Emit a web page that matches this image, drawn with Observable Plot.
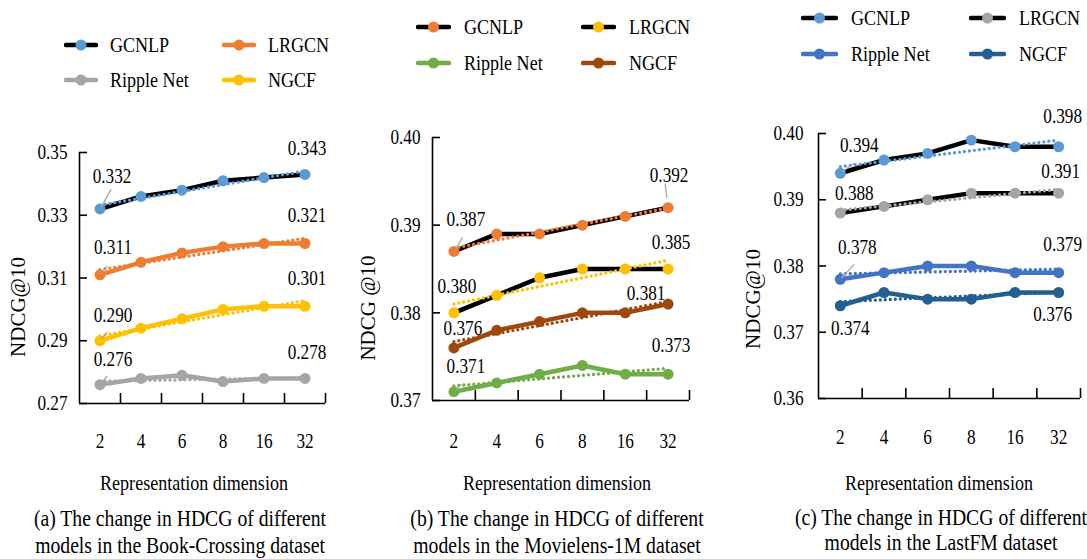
<!DOCTYPE html>
<html><head><meta charset="utf-8">
<script src="https://cdn.jsdelivr.net/npm/d3@7"></script>
<script src="https://cdn.jsdelivr.net/npm/@observablehq/plot@0.6"></script>
<style>
body{margin:0;background:#fff;}
#root{position:relative;width:1087px;height:559px;overflow:hidden;background:#fff;font-family:"Liberation Serif","Times New Roman",serif;color:#000;}
.abs{position:absolute;}
.cond{position:absolute;white-space:nowrap;line-height:1;}
</style></head><body><div id="root"></div>
<script>
// ---------- data ----------
const dims = ["2", "4", "6", "8", "16", "32"];
const models = ["GCNLP", "LRGCN", "Ripple Net", "NGCF"];

// (a) Book-Crossing
const bookGCNLP  = [0.332, 0.336, 0.338, 0.341, 0.342, 0.343];
const bookLRGCN  = [0.311, 0.315, 0.318, 0.320, 0.321, 0.321];
const bookRipple = [0.276, 0.278, 0.279, 0.277, 0.278, 0.278];
const bookNGCF   = [0.290, 0.294, 0.297, 0.300, 0.301, 0.301];
const yTicksBook = [0.27, 0.29, 0.31, 0.33, 0.35];

// (b) Movielens-1M
const movieGCNLP  = [0.387, 0.389, 0.389, 0.390, 0.391, 0.392];
const movieLRGCN  = [0.380, 0.382, 0.384, 0.385, 0.385, 0.385];
const movieRipple = [0.371, 0.372, 0.373, 0.374, 0.373, 0.373];
const movieNGCF   = [0.376, 0.378, 0.379, 0.380, 0.380, 0.381];
const yTicksMovie = [0.37, 0.38, 0.39, 0.40];

// (c) LastFM
const lastGCNLP  = [0.394, 0.396, 0.397, 0.399, 0.398, 0.398];
const lastLRGCN  = [0.388, 0.389, 0.390, 0.391, 0.391, 0.391];
const lastRipple = [0.378, 0.379, 0.380, 0.380, 0.379, 0.379];
const lastNGCF   = [0.374, 0.376, 0.375, 0.375, 0.376, 0.376];
const yTicksLast = [0.36, 0.37, 0.38, 0.39, 0.40];

const xTitle = "Representation dimension";
const captionsA = ["(a) The change in HDCG of different", "models in the Book-Crossing dataset"];
const captionsB = ["(b) The change in HDCG of different", "models in the Movielens-1M dataset"];
const captionsC = ["(c) The change in HDCG of different", "models in the LastFM dataset"];

// ---------- layout / style config ----------
const SX = 0.82;
const FONT = '"Liberation Serif","Times New Roman",serif';
const SVG_TOP = 95, SVG_H = 405;

const panels = [
  { left: 0, width: 360, ml: 79, mr: 35, mt: 57, mb: 97, yDomain: [0.27, 0.35], yTicks: yTicksBook,
    yPad: 12, xPad: 30, yLabel: "NDCG@10", yLabelDx: -61, yLabelDy: 29,
    series: [
      {name: models[0], values: bookGCNLP,  line: "#000000", mark: "#5B9BD5"},
      {name: models[1], values: bookLRGCN,  line: "#ED7D31", mark: "#ED7D31"},
      {name: models[2], values: bookRipple, line: "#A5A5A5", mark: "#A5A5A5"},
      {name: models[3], values: bookNGCF,   line: "#FFC000", mark: "#FFC000"}],
    labels: [
      {s: 0, at: 0, dx: 12, dy: -33}, {s: 1, at: 0, dx: 13, dy: -28}, {s: 3, at: 0, dx: 13, dy: -25}, {s: 2, at: 0, dx: 13, dy: -25},
      {s: 0, at: 5, dx: 2, dy: -26}, {s: 1, at: 5, dx: 2, dy: -28}, {s: 3, at: 5, dx: 2, dy: -28}, {s: 2, at: 5, dx: 2, dy: -26}],
    leaders: [
      {s: 0, at: 0, rot: 30, r: 3, len: 22}, {s: 1, at: 0, rot: 40, r: 3, len: 11},
      {s: 3, at: 0, rot: 40, r: 3, len: 11}, {s: 2, at: 0, rot: 40, r: 3, len: 11}],
    legend: {rows: [45, 80], sw: [65, 223], swW: 32, tx: [110, 268]},
    title: {cx: 194, cy: 483}, caption: {cx: 180, cy: [518, 545], lines: captionsA}
  },
  { left: 362, width: 362, ml: 70, mr: 35, mt: 42, mb: 100, yDomain: [0.37, 0.40], yTicks: yTicksMovie,
    yPad: 12, xPad: 33, yLabel: "NDCG @10", yLabelDx: -64, yLabelDy: 39,
    series: [
      {name: models[0], values: movieGCNLP,  line: "#000000", mark: "#ED7D31"},
      {name: models[1], values: movieLRGCN,  line: "#000000", mark: "#FFC000"},
      {name: models[2], values: movieRipple, line: "#70AD47", mark: "#70AD47"},
      {name: models[3], values: movieNGCF,   line: "#9E480E", mark: "#9E480E"}],
    labels: [
      {s: 0, at: 0, dx: 12, dy: -32}, {s: 0, at: 5, dx: 1, dy: -32},
      {s: 1, at: 0, dx: 3, dy: -27}, {s: 1, at: 5, dx: 3, dy: -27},
      {s: 3, at: 0, dx: 9, dy: -20}, {s: 3, at: 5, dx: -22, dy: -11},
      {s: 2, at: 0, dx: 12, dy: -25}, {s: 2, at: 5, dx: 3, dy: -29}],
    leaders: [
      {s: 0, at: 0, rot: 32, r: 4, len: 16}, {s: 0, at: 5, rot: -7, r: 10, len: 24},
      {s: 2, at: 0, rot: 45, r: 3, len: 10}],
    legend: {rows: [27, 63], sw: [417, 582], swW: 33, tx: [464, 629]},
    title: {cx: 557, cy: 483}, caption: {cx: 557, cy: [518, 545], lines: captionsB}
  },
  { left: 725, width: 362, ml: 93, mr: 7, mt: 38, mb: 102, yDomain: [0.36, 0.40], yTicks: yTicksLast,
    yPad: 15, xPad: 31, yLabel: "NDCG@10", yLabelDx: -65, yLabelDy: 33,
    series: [
      {name: models[0], values: lastGCNLP,  line: "#000000", mark: "#5B9BD5"},
      {name: models[1], values: lastLRGCN,  line: "#000000", mark: "#A5A5A5"},
      {name: models[2], values: lastRipple, line: "#4472C4", mark: "#4472C4"},
      {name: models[3], values: lastNGCF,   line: "#255E91", mark: "#255E91"}],
    labels: [
      {s: 0, at: 0, dx: 19, dy: -28}, {s: 0, at: 5, dx: 4, dy: -30},
      {s: 1, at: 0, dx: 14, dy: -20}, {s: 1, at: 5, dx: 2, dy: -22},
      {s: 2, at: 0, dx: 17, dy: -32}, {s: 2, at: 5, dx: 4, dy: -28},
      {s: 3, at: 0, dx: 10, dy: 23}, {s: 3, at: 5, dx: -6, dy: 22}],
    leaders: [
      {s: 0, at: 0, rot: 54, r: 3, len: 17}, {s: 2, at: 0, rot: 43, r: 2, len: 20}],
    legend: {rows: [18, 54], sw: [802, 970], swW: 35, tx: [851, 1019]},
    title: {cx: 939, cy: 483}, caption: {cx: 941, cy: [517, 542], lines: captionsC}
  }
];

const root = document.getElementById("root");
const fmt3 = d3.format(".3f");
const fmt2 = d3.format(".2f");
const leaderShape = {draw(context, l, r) { context.moveTo(0, -r); context.lineTo(0, -l); }};

function addText(txt, cx, cy, size, anchor) {
  const el = document.createElement("div");
  el.className = "cond";
  el.textContent = txt;
  el.style.fontSize = size + "px";
  el.style.top = (cy - size / 2) + "px";
  if (anchor === "middle") {
    el.style.left = (cx - 300) + "px";
    el.style.width = "600px";
    el.style.textAlign = "center";
    el.style.transformOrigin = "50% 50%";
  } else {
    el.style.left = cx + "px";
    el.style.transformOrigin = "0 50%";
  }
  el.style.transform = `scaleX(${SX})`;
  root.appendChild(el);
}

panels.forEach(p => {
  const data = p.series.flatMap(s => s.values.map((v, i) => ({series: s.name, i, v, line: s.line, mark: s.mark})));
  const n = dims.length;
  const bounds = d3.range(n).map(i => i + 0.5);
  const pt = (l) => { const s = p.series[l.s]; return {i: l.at, v: s.values[l.at]}; };

  const labelMarks = p.labels.map(l => Plot.text([pt(l)], {
    x: "i", y: "v", text: d => fmt3(d.v), dx: l.dx, dy: l.dy, fontSize: 21, fill: "#000"
  }));
  const leaderMarks = p.leaders.map(l => Plot.vector([pt(l)], {
    x: "i", y: "v", length: l.len, rotate: l.rot, r: l.r, anchor: "start", shape: leaderShape,
    stroke: "#A6A6A6", strokeWidth: 1.3
  }));

  const chart = Plot.plot({
    width: p.width, height: SVG_H,
    marginLeft: p.ml, marginRight: p.mr, marginTop: p.mt, marginBottom: p.mb,
    style: {fontFamily: FONT, fontSize: "21px", background: "transparent", overflow: "visible", color: "#000"},
    x: {domain: [-0.5, n - 0.5], axis: null},
    y: {domain: p.yDomain, axis: null},
    color: {type: "identity"},
    marks: [
      Plot.ruleX([-0.5], {stroke: "#000", strokeWidth: 1.6}),
      Plot.ruleY([p.yDomain[0]], {stroke: "#000", strokeWidth: 1.6}),
      Plot.axisY({ticks: p.yTicks, tickSize: -8, fill: "none", stroke: "#000", strokeWidth: 1.6, label: null}),
      Plot.axisY({ticks: p.yTicks, tickSize: 0, tickPadding: p.yPad, tickFormat: fmt2, fontSize: 21, fill: "#000", label: null}),
      Plot.axisX({ticks: bounds, tickSize: -10, fill: "none", stroke: "#000", strokeWidth: 1.6, label: null}),
      Plot.axisX({ticks: d3.range(n), tickSize: 0, tickPadding: p.xPad, tickFormat: i => dims[i], fontSize: 21, fill: "#000", label: null}),
      Plot.line(data, {x: "i", y: "v", z: "series", stroke: "line", strokeWidth: 4.5, strokeLinejoin: "round", strokeLinecap: "round"}),
      Plot.linearRegressionY(data, {x: "i", y: "v", z: "series", stroke: "mark", ci: 0, strokeWidth: 3.4, strokeDasharray: "0 5", strokeLinecap: "round"}),
      Plot.dot(data, {x: "i", y: "v", fill: "mark", r: 5.5}),
      ...leaderMarks,
      ...labelMarks,
      Plot.text([p.yLabel], {frameAnchor: "left", textAnchor: "middle", text: d => d, rotate: -90, dx: p.yLabelDx, dy: p.yLabelDy, fontSize: 21, fill: "#000"})
    ]
  });
  chart.querySelectorAll("text").forEach(t => {
    const tr = t.getAttribute("transform") || "";
    if (tr.includes("rotate")) return;
    t.setAttribute("transform", (tr + ` scale(${SX},1)`).trim());
  });
  chart.style.position = "absolute";
  chart.style.left = p.left + "px";
  chart.style.top = SVG_TOP + "px";
  root.appendChild(chart);

  // legend
  p.series.forEach((s, k) => {
    const row = Math.floor(k / 2), col = k % 2;
    const cy = p.legend.rows[row];
    const sx = p.legend.sw[col];
    const w = p.legend.swW;
    const ns = "http://www.w3.org/2000/svg";
    const svg = document.createElementNS(ns, "svg");
    svg.setAttribute("width", w + 2); svg.setAttribute("height", 14);
    svg.style.position = "absolute"; svg.style.left = (sx - 1) + "px"; svg.style.top = (cy - 7) + "px";
    svg.innerHTML = `<line x1="2" y1="7" x2="${w}" y2="7" stroke="${s.line}" stroke-width="4.5" stroke-linecap="round"/>` +
      `<circle cx="${w / 2 + 1}" cy="7" r="5.5" fill="${s.mark}"/>`;
    root.appendChild(svg);
    addText(s.name, p.legend.tx[col], cy, 22, "start");
  });

  addText(xTitle, p.title.cx, p.title.cy, 22, "middle");
  p.caption.lines.forEach((ln, j) => addText(ln, p.caption.cx, p.caption.cy[j], 24, "middle"));
});
</script></body></html>
